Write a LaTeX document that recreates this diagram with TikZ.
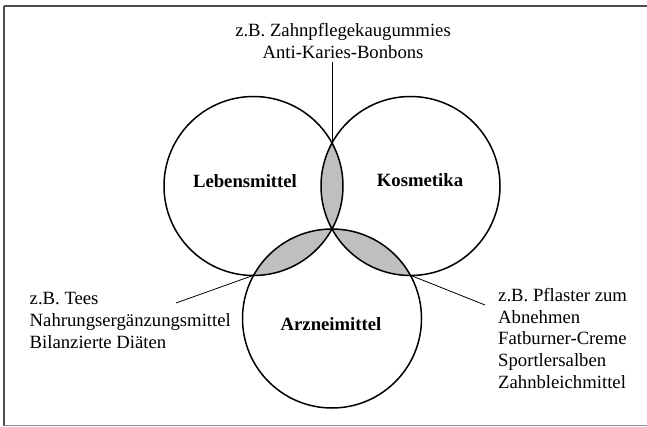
\documentclass[tikz,border=0pt]{standalone}
\usepackage{fontspec}
\setmainfont{Liberation Serif}
\begin{document}
\begin{tikzpicture}[x=1pt,y=-1pt,
  setcircle/.style={circle,draw=black,line width=1.5pt,minimum size=179pt,inner sep=0pt},
  lenscol/.style={fill=black!25},
  txt/.style={font=\fontsize{18.7}{21.6}\selectfont,inner sep=0pt,align=left},
  boldlbl/.style={font=\fontsize{18.7}{21.6}\selectfont\bfseries,inner sep=0pt,anchor=base},
  leader/.style={draw=black,line width=0.8pt}]
\useasboundingbox (0,0) rectangle (647,427);
% frame (open on the right)
\draw[black!70,line width=1.2pt] (647,6) -- (4,6);
\draw[black!70,line width=1.2pt] (4,6) -- (4,425.5);
\draw[black!45,line width=1.2pt] (4,425.5) -- (647,425.5);
% lens fills
\begin{scope}
  \clip (253.5,186) circle (89.5);
  \fill[lenscol] (410.5,186) circle (89.5);
  \fill[lenscol] (332,318.5) circle (89.5);
\end{scope}
\begin{scope}
  \clip (410.5,186) circle (89.5);
  \fill[lenscol] (332,318.5) circle (89.5);
\end{scope}
% circles
\node[setcircle] (L) at (253.5,186) {};
\node[setcircle] (K) at (410.5,186) {};
\node[setcircle] (A) at (332,318.5) {};
% labels
\node[boldlbl] (lL) at (245,188) {Lebensmittel};
\node[boldlbl] (lK) at (420,187) {Kosmetika};
\node[boldlbl] (lA) at (331,330) {Arzneimittel};
% intersection points
\coordinate (pLK) at (332,143);
\coordinate (pLA) at (253,275.5);
\coordinate (pKA) at (411,275.5);
% free ends of leaders
\coordinate (eTop) at (332,62);
\coordinate (eLeft) at (176,303);
\coordinate (eRight) at (485,305);
% texts (base anchor = baseline of last line)
\node[txt,anchor=base,align=center] (tTop) at (343,58.3) {z.B. Zahnpflegekaugummies\\Anti-Karies-Bonbons};
\node[txt,anchor=base west] (tLeft) at (29.5,348) {z.B. Tees\\Nahrungsergänzungsmittel\\Bilanzierte Diäten};
\node[txt,anchor=base west] (tRight) at (498,388) {z.B. Pflaster zum\\Abnehmen\\Fatburner-Creme\\Sportlersalben\\Zahnbleichmittel};
% leaders
\draw[leader] (pLK) -- (eTop);
\draw[leader] (pLA) -- (eLeft);
\draw[leader] (pKA) -- (eRight);
\end{tikzpicture}
\end{document}
